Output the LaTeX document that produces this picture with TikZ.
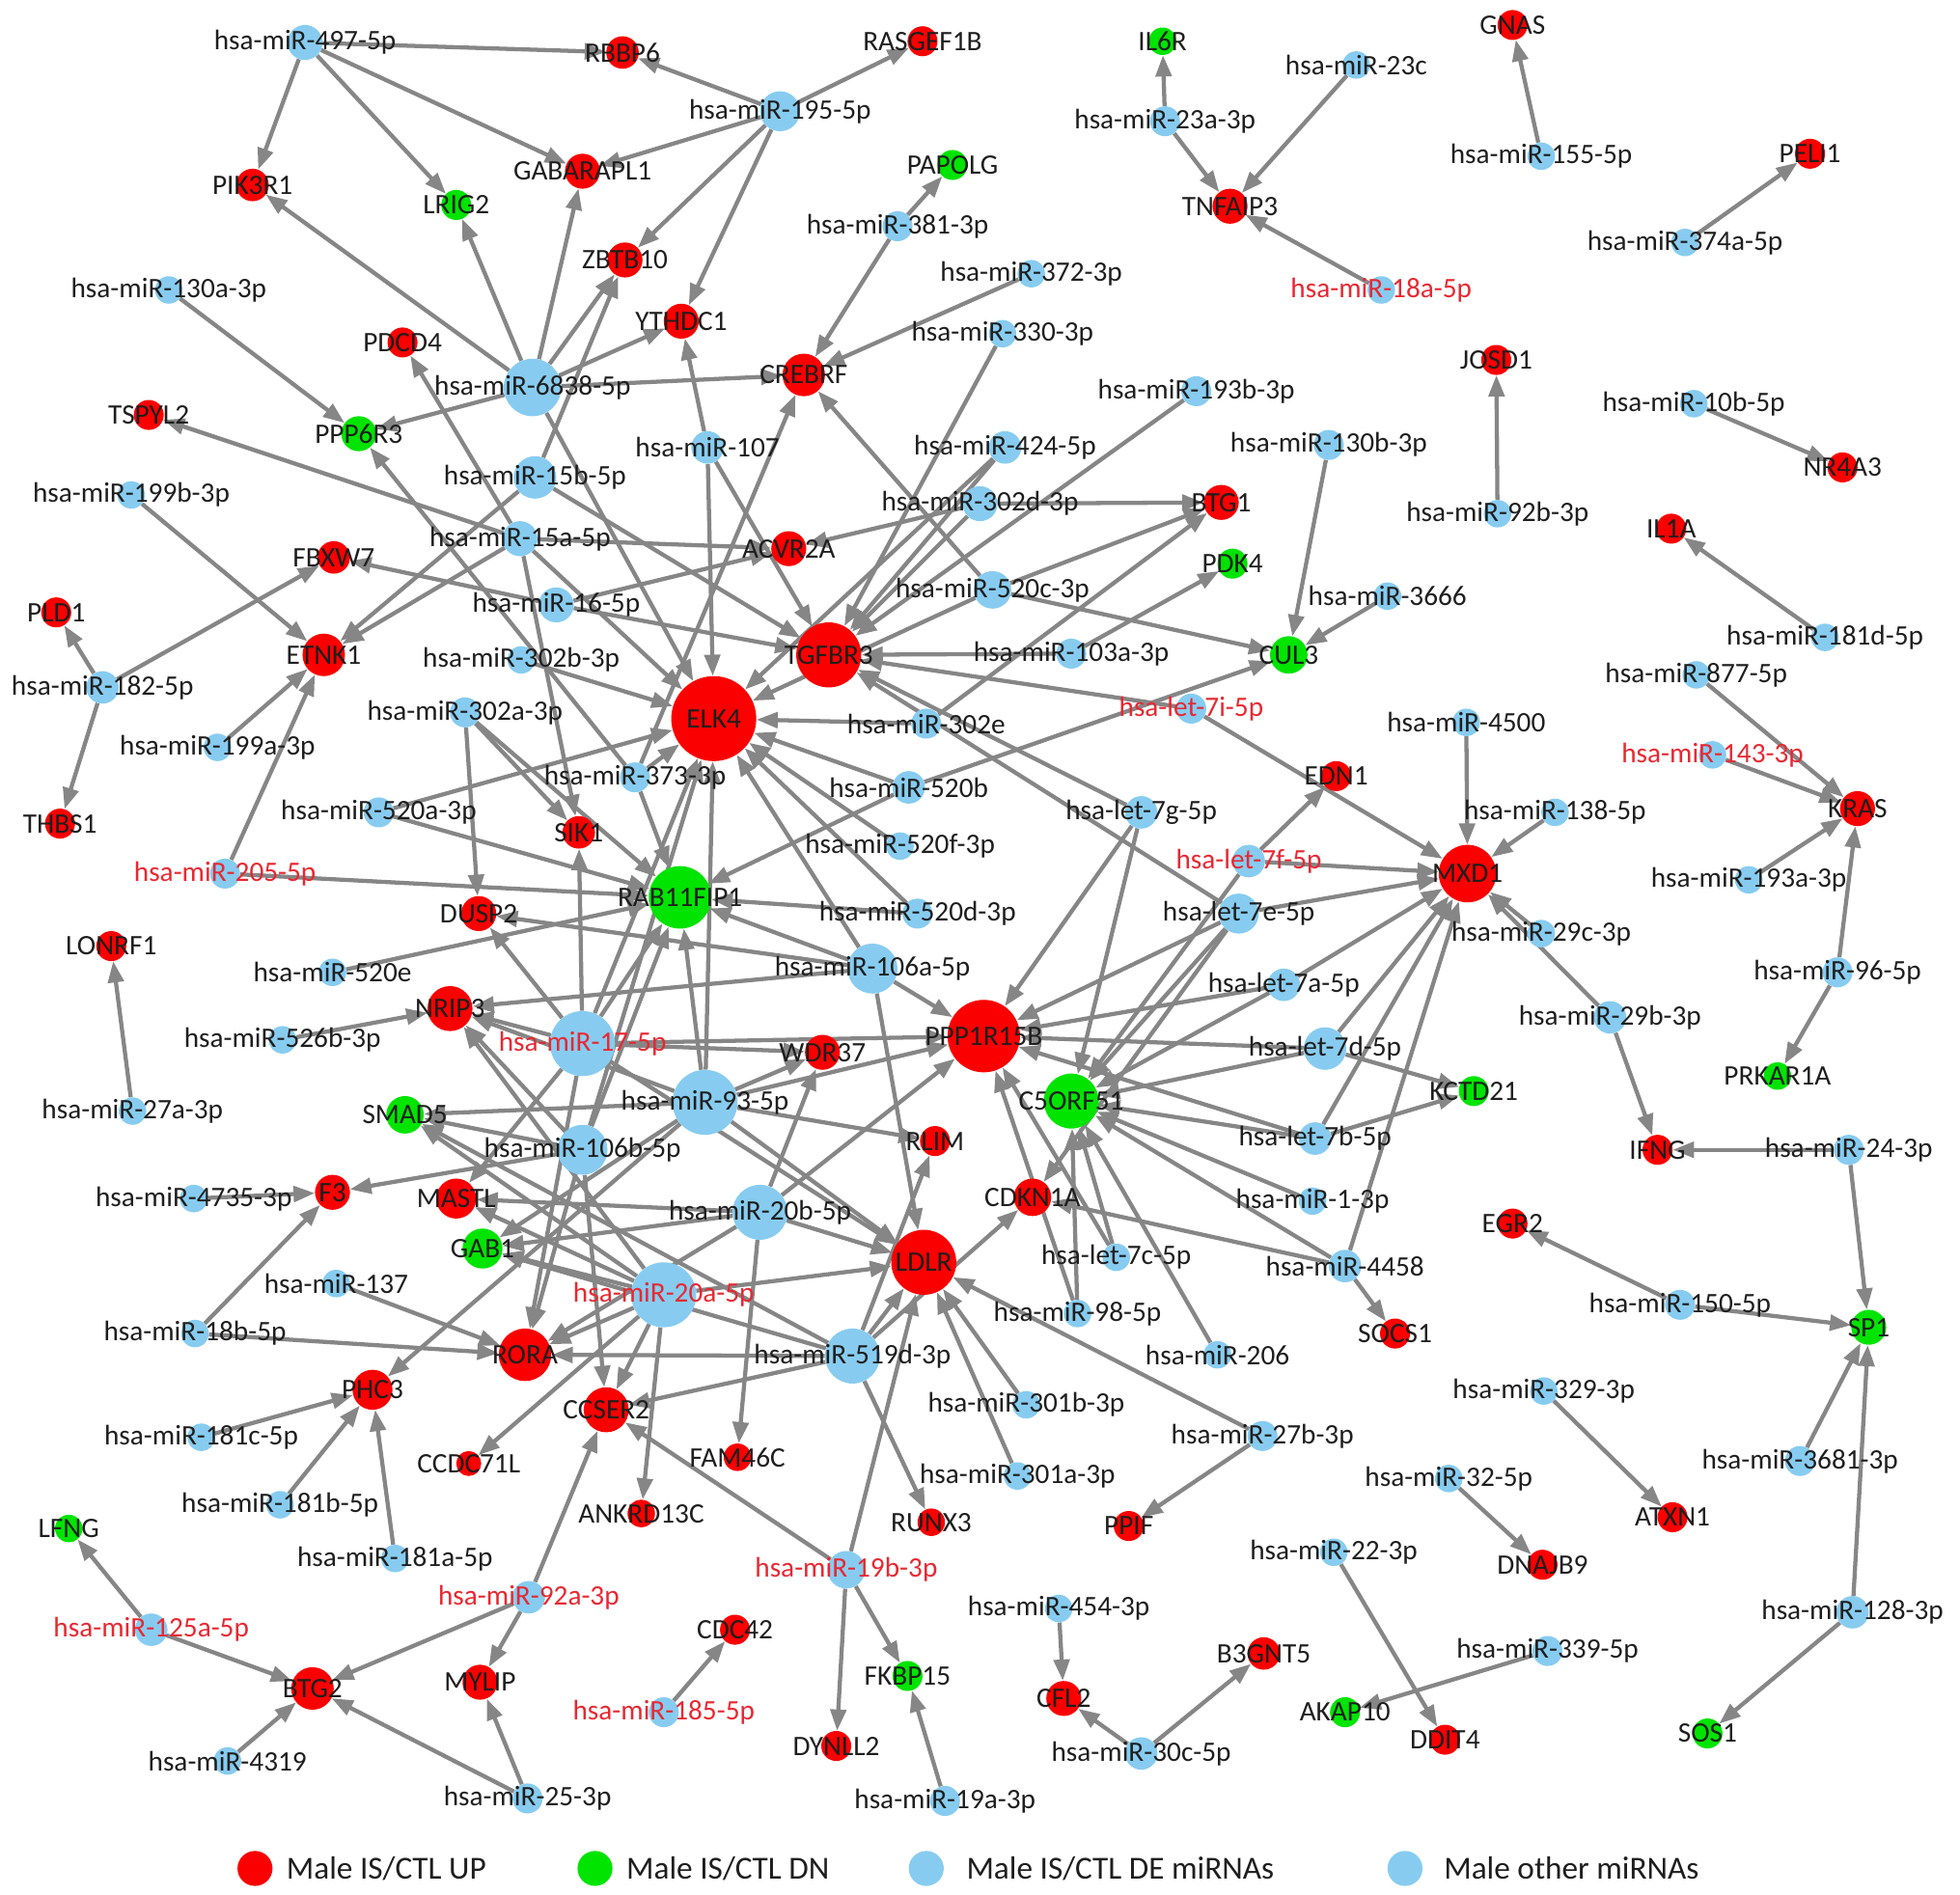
\documentclass[tikz,border=0pt]{standalone}
\usepackage{fontspec}
\setmainfont{Carlito}
\usetikzlibrary{arrows.meta}
\pgfdeclarelayer{bgfill}
\pgfdeclarelayer{edges}
\pgfsetlayers{bgfill,edges,main}
\definecolor{gred}{RGB}{250,0,0}
\definecolor{ggreen}{RGB}{0,228,0}
\definecolor{mblue}{RGB}{135,204,240}
\definecolor{egray}{RGB}{134,134,134}
\definecolor{lblack}{RGB}{30,30,30}
\definecolor{lred}{RGB}{232,40,50}
\newcommand\lblfont{\fontsize{22.6}{24}\selectfont}
\newcommand\legfont{\fontsize{25.7}{28}\selectfont}
\tikzset{
  nd/.style={circle, inner sep=0pt, draw=none},
  gr/.style={nd, fill=gred},
  gg/.style={nd, fill=ggreen},
  bm/.style={nd, fill=mblue},
  lab/.style={font=\lblfont, text=lblack, inner sep=0pt},
  labr/.style={lab, text=lred},
  edg/.style={draw=egray, line width=3.3pt, -{Triangle[length=17pt,width=12.5pt]}},
}
\newcommand\Nd[7]{\node[#4, minimum size=#5pt, label={[#7]center:#6}] (#1) at (#2,#3) {};}
\begin{document}
\begin{tikzpicture}[x=1pt,y=-1pt]
\begin{pgfonlayer}{bgfill}
\fill[white] (0,0) rectangle (1568,1516);
\end{pgfonlayer}
\useasboundingbox (0,0) rectangle (1568,1516);
\Nd{m497}{244}{34}{bm}{28}{hsa-miR-497-5p}{lab}
\Nd{RBBP6}{498}{42}{gr}{26}{RBBP6}{lab}
\Nd{RASGEF1B}{738}{33}{gr}{24}{RASGEF1B}{lab}
\Nd{m195}{624}{89}{bm}{32}{hsa-miR-195-5p}{lab}
\Nd{GABARAPL1}{466}{137}{gr}{28}{GABARAPL1}{lab}
\Nd{PIK3R1}{202}{148}{gr}{26}{PIK3R1}{lab}
\Nd{LRIG2}{365}{164}{gg}{24}{LRIG2}{lab}
\Nd{PAPOLG}{762}{132}{gg}{24}{PAPOLG}{lab}
\Nd{m381}{718}{181}{bm}{24}{hsa-miR-381-3p}{lab}
\Nd{ZBTB10}{500}{208}{gr}{28}{ZBTB10}{lab}
\Nd{YTHDC1}{545}{257}{gr}{28}{YTHDC1}{lab}
\Nd{m130a}{135}{232}{bm}{22}{hsa-miR-130a-3p}{lab}
\Nd{m372}{825}{219}{bm}{22}{hsa-miR-372-3p}{lab}
\Nd{m330}{802}{267}{bm}{22}{hsa-miR-330-3p}{lab}
\Nd{PDCD4}{322}{274}{gr}{24}{PDCD4}{lab}
\Nd{m6838}{426}{310}{bm}{46}{hsa-miR-6838-5p}{lab}
\Nd{CREBRF}{643}{300}{gr}{34}{CREBRF}{lab}
\Nd{TSPYL2}{119}{332}{gr}{24}{TSPYL2}{lab}
\Nd{PPP6R3}{287}{347}{gg}{28}{PPP6R3}{lab}
\Nd{m107}{566}{358}{bm}{26}{hsa-miR-107}{lab}
\Nd{m193b}{957}{313}{bm}{24}{hsa-miR-193b-3p}{lab}
\Nd{m424}{804}{358}{bm}{26}{hsa-miR-424-5p}{lab}
\Nd{m130b}{1063}{356}{bm}{24}{hsa-miR-130b-3p}{lab}
\Nd{m15b}{428}{382}{bm}{34}{hsa-miR-15b-5p}{lab}
\Nd{m199b}{105}{396}{bm}{22}{hsa-miR-199b-3p}{lab}
\Nd{m302d}{784}{403}{bm}{28}{hsa-miR-302d-3p}{lab}
\Nd{BTG1}{977}{402}{gr}{28}{BTG1}{lab}
\Nd{m15a}{416}{431}{bm}{28}{hsa-miR-15a-5p}{lab}
\Nd{ACVR2A}{631}{439}{gr}{28}{ACVR2A}{lab}
\Nd{FBXW7}{267}{446}{gr}{26}{FBXW7}{lab}
\Nd{PDK4}{986}{451}{gg}{24}{PDK4}{lab}
\Nd{m16}{445}{484}{bm}{28}{hsa-miR-16-5p}{lab}
\Nd{PLD1}{45}{490}{gr}{24}{PLD1}{lab}
\Nd{ETNK1}{259}{524}{gr}{34}{ETNK1}{lab}
\Nd{TGFBR3}{663}{524}{gr}{52}{TGFBR3}{lab}
\Nd{m520c}{794}{472}{bm}{30}{hsa-miR-520c-3p}{lab}
\Nd{m3666}{1110}{477}{bm}{22}{hsa-miR-3666}{lab}
\Nd{CUL3}{1031}{524}{gg}{30}{CUL3}{lab}
\Nd{m103a}{857}{523}{bm}{24}{hsa-miR-103a-3p}{lab}
\Nd{m302b}{417}{528}{bm}{22}{hsa-miR-302b-3p}{lab}
\Nd{m182}{82}{550}{bm}{26}{hsa-miR-182-5p}{lab}
\Nd{ELK4}{571}{575}{gr}{68}{ELK4}{lab}
\Nd{m302e}{741}{579}{bm}{24}{hsa-miR-302e}{lab}
\Nd{let7i}{953}{567}{bm}{24}{hsa-let-7i-5p}{labr}
\Nd{m302a}{372}{570}{bm}{24}{hsa-miR-302a-3p}{lab}
\Nd{m199a}{174}{598}{bm}{22}{hsa-miR-199a-3p}{lab}
\Nd{m4500}{1173}{578}{bm}{22}{hsa-miR-4500}{lab}
\Nd{m877}{1357}{540}{bm}{22}{hsa-miR-877-5p}{lab}
\Nd{m181d}{1460}{510}{bm}{22}{hsa-miR-181d-5p}{lab}
\Nd{IL1A}{1337}{423}{gr}{24}{IL1A}{lab}
\Nd{NR4A3}{1474}{374}{gr}{24}{NR4A3}{lab}
\Nd{m10b}{1355}{323}{bm}{22}{hsa-miR-10b-5p}{lab}
\Nd{m92b}{1198}{411}{bm}{22}{hsa-miR-92b-3p}{lab}
\Nd{JOSD1}{1197}{288}{gr}{24}{JOSD1}{lab}
\Nd{m18a}{1105}{232}{bm}{22}{hsa-miR-18a-5p}{labr}
\Nd{TNFAIP3}{984}{165}{gr}{28}{TNFAIP3}{lab}
\Nd{m23a}{932}{97}{bm}{24}{hsa-miR-23a-3p}{lab}
\Nd{IL6R}{930}{33}{gg}{22}{IL6R}{lab}
\Nd{m23c}{1085}{52}{bm}{22}{hsa-miR-23c}{lab}
\Nd{GNAS}{1210}{20}{gr}{24}{GNAS}{lab}
\Nd{m155}{1233}{125}{bm}{22}{hsa-miR-155-5p}{lab}
\Nd{PELI1}{1448}{123}{gr}{24}{PELI1}{lab}
\Nd{m374a}{1348}{194}{bm}{22}{hsa-miR-374a-5p}{lab}
\Nd{m373}{508}{622}{bm}{24}{hsa-miR-373-3p}{lab}
\Nd{m520b}{727}{630}{bm}{26}{hsa-miR-520b}{lab}
\Nd{EDN1}{1069}{621}{gr}{24}{EDN1}{lab}
\Nd{m143}{1370}{604}{bm}{22}{hsa-miR-143-3p}{labr}
\Nd{KRAS}{1486}{647}{gr}{28}{KRAS}{lab}
\Nd{THBS1}{48}{659}{gr}{24}{THBS1}{lab}
\Nd{m520a}{303}{650}{bm}{24}{hsa-miR-520a-3p}{lab}
\Nd{SIK1}{463}{666}{gr}{26}{SIK1}{lab}
\Nd{let7g}{913}{650}{bm}{26}{hsa-let-7g-5p}{lab}
\Nd{m138}{1244}{650}{bm}{22}{hsa-miR-138-5p}{lab}
\Nd{m520f}{720}{677}{bm}{22}{hsa-miR-520f-3p}{lab}
\Nd{let7f}{999}{689}{bm}{26}{hsa-let-7f-5p}{labr}
\Nd{MXD1}{1174}{699}{gr}{46}{MXD1}{lab}
\Nd{m193a}{1399}{704}{bm}{22}{hsa-miR-193a-3p}{lab}
\Nd{m205}{180}{699}{bm}{24}{hsa-miR-205-5p}{labr}
\Nd{RAB11FIP1}{544}{718}{gg}{50}{RAB11FIP1}{lab}
\Nd{DUSP2}{383}{731}{gr}{28}{DUSP2}{lab}
\Nd{m520d}{734}{731}{bm}{24}{hsa-miR-520d-3p}{lab}
\Nd{let7e}{991}{731}{bm}{32}{hsa-let-7e-5p}{lab}
\Nd{m29c}{1233}{747}{bm}{22}{hsa-miR-29c-3p}{lab}
\Nd{LONRF1}{89}{757}{gr}{24}{LONRF1}{lab}
\Nd{m520e}{266}{778}{bm}{22}{hsa-miR-520e}{lab}
\Nd{m106a}{698}{775}{bm}{40}{hsa-miR-106a-5p}{lab}
\Nd{m96}{1470}{778}{bm}{24}{hsa-miR-96-5p}{lab}
\Nd{let7a}{1027}{788}{bm}{26}{hsa-let-7a-5p}{lab}
\Nd{NRIP3}{360}{807}{gr}{36}{NRIP3}{lab}
\Nd{m29b}{1288}{814}{bm}{26}{hsa-miR-29b-3p}{lab}
\Nd{m526b}{226}{832}{bm}{22}{hsa-miR-526b-3p}{lab}
\Nd{m17}{466}{835}{bm}{52}{hsa-miR-17-5p}{labr}
\Nd{PPP1R15B}{787}{829}{gr}{58}{PPP1R15B}{lab}
\Nd{WDR37}{658}{842}{gr}{28}{WDR37}{lab}
\Nd{let7d}{1060}{839}{bm}{34}{hsa-let-7d-5p}{lab}
\Nd{PRKAR1A}{1422}{861}{gg}{22}{PRKAR1A}{lab}
\Nd{m27a}{106}{889}{bm}{22}{hsa-miR-27a-3p}{lab}
\Nd{SMAD5}{324}{892}{gg}{30}{SMAD5}{lab}
\Nd{m93}{564}{882}{bm}{52}{hsa-miR-93-5p}{lab}
\Nd{C5ORF51}{857}{881}{gg}{44}{C5ORF51}{lab}
\Nd{KCTD21}{1179}{873}{gg}{24}{KCTD21}{lab}
\Nd{let7b}{1052}{911}{bm}{26}{hsa-let-7b-5p}{lab}
\Nd{m106b}{466}{920}{bm}{40}{hsa-miR-106b-5p}{lab}
\Nd{RLIM}{748}{913}{gr}{24}{RLIM}{lab}
\Nd{IFNG}{1326}{920}{gr}{24}{IFNG}{lab}
\Nd{m24}{1479}{920}{bm}{24}{hsa-miR-24-3p}{lab}
\Nd{m4735}{155}{959}{bm}{22}{hsa-miR-4735-3p}{lab}
\Nd{F3}{266}{954}{gr}{28}{F3}{lab}
\Nd{MASTL}{365}{959}{gr}{32}{MASTL}{lab}
\Nd{m20b}{608}{970}{bm}{44}{hsa-miR-20b-5p}{lab}
\Nd{CDKN1A}{826}{958}{gr}{30}{CDKN1A}{lab}
\Nd{m1}{1050}{961}{bm}{22}{hsa-miR-1-3p}{lab}
\Nd{EGR2}{1210}{979}{gr}{24}{EGR2}{lab}
\Nd{GAB1}{386}{999}{gg}{32}{GAB1}{lab}
\Nd{let7c}{893}{1006}{bm}{22}{hsa-let-7c-5p}{lab}
\Nd{m4458}{1076}{1013}{bm}{26}{hsa-miR-4458}{lab}
\Nd{m137}{269}{1027}{bm}{22}{hsa-miR-137}{lab}
\Nd{m20a}{531}{1036}{bm}{52}{hsa-miR-20a-5p}{labr}
\Nd{LDLR}{739}{1010}{gr}{52}{LDLR}{lab}
\Nd{m98}{862}{1051}{bm}{22}{hsa-miR-98-5p}{lab}
\Nd{SP1}{1495}{1062}{gg}{28}{SP1}{lab}
\Nd{m150}{1344}{1044}{bm}{24}{hsa-miR-150-5p}{lab}
\Nd{SOCS1}{1116}{1067}{gr}{24}{SOCS1}{lab}
\Nd{m18b}{156}{1067}{bm}{22}{hsa-miR-18b-5p}{lab}
\Nd{RORA}{420}{1084}{gr}{42}{RORA}{lab}
\Nd{m519d}{682}{1085}{bm}{44}{hsa-miR-519d-3p}{lab}
\Nd{m206}{974}{1084}{bm}{22}{hsa-miR-206}{lab}
\Nd{PHC3}{298}{1112}{gr}{32}{PHC3}{lab}
\Nd{CCSER2}{485}{1128}{gr}{36}{CCSER2}{lab}
\Nd{m181c}{161}{1150}{bm}{22}{hsa-miR-181c-5p}{lab}
\Nd{m301b}{821}{1124}{bm}{22}{hsa-miR-301b-3p}{lab}
\Nd{m329}{1235}{1113}{bm}{22}{hsa-miR-329-3p}{lab}
\Nd{m27b}{1010}{1149}{bm}{24}{hsa-miR-27b-3p}{lab}
\Nd{CCDC71L}{375}{1171}{gr}{20}{CCDC71L}{lab}
\Nd{FAM46C}{590}{1166}{gr}{22}{FAM46C}{lab}
\Nd{m301a}{814}{1181}{bm}{22}{hsa-miR-301a-3p}{lab}
\Nd{m32}{1159}{1183}{bm}{22}{hsa-miR-32-5p}{lab}
\Nd{m3681}{1440}{1169}{bm}{24}{hsa-miR-3681-3p}{lab}
\Nd{m181b}{224}{1204}{bm}{22}{hsa-miR-181b-5p}{lab}
\Nd{ANKRD13C}{513}{1211}{gr}{22}{ANKRD13C}{lab}
\Nd{RUNX3}{745}{1218}{gr}{22}{RUNX3}{lab}
\Nd{PPIF}{903}{1221}{gr}{24}{PPIF}{lab}
\Nd{ATXN1}{1338}{1214}{gr}{24}{ATXN1}{lab}
\Nd{LFNG}{55}{1223}{gg}{22}{LFNG}{lab}
\Nd{m181a}{316}{1247}{bm}{22}{hsa-miR-181a-5p}{lab}
\Nd{m22}{1067}{1242}{bm}{22}{hsa-miR-22-3p}{lab}
\Nd{DNAJB9}{1234}{1252}{gr}{24}{DNAJB9}{lab}
\Nd{m19b}{677}{1256}{bm}{30}{hsa-miR-19b-3p}{labr}
\Nd{m92a}{423}{1278}{bm}{26}{hsa-miR-92a-3p}{labr}
\Nd{m454}{847}{1287}{bm}{22}{hsa-miR-454-3p}{lab}
\Nd{m128}{1482}{1290}{bm}{26}{hsa-miR-128-3p}{lab}
\Nd{m125a}{121}{1304}{bm}{26}{hsa-miR-125a-5p}{labr}
\Nd{CDC42}{588}{1304}{gr}{24}{CDC42}{lab}
\Nd{B3GNT5}{1011}{1323}{gr}{26}{B3GNT5}{lab}
\Nd{m339}{1238}{1321}{bm}{24}{hsa-miR-339-5p}{lab}
\Nd{FKBP15}{726}{1341}{gg}{24}{FKBP15}{lab}
\Nd{BTG2}{250}{1351}{gr}{34}{BTG2}{lab}
\Nd{MYLIP}{384}{1346}{gr}{28}{MYLIP}{lab}
\Nd{CFL2}{851}{1359}{gr}{28}{CFL2}{lab}
\Nd{m185}{531}{1370}{bm}{24}{hsa-miR-185-5p}{labr}
\Nd{AKAP10}{1076}{1370}{gg}{24}{AKAP10}{lab}
\Nd{DDIT4}{1156}{1392}{gr}{24}{DDIT4}{lab}
\Nd{SOS1}{1366}{1387}{gg}{24}{SOS1}{lab}
\Nd{DYNLL2}{669}{1397}{gr}{24}{DYNLL2}{lab}
\Nd{m30c}{913}{1403}{bm}{26}{hsa-miR-30c-5p}{lab}
\Nd{m4319}{182}{1409}{bm}{22}{hsa-miR-4319}{lab}
\Nd{m25}{422}{1439}{bm}{24}{hsa-miR-25-3p}{lab}
\Nd{m19a}{756}{1441}{bm}{24}{hsa-miR-19a-3p}{lab}
% legend
\node[gr, minimum size=28pt] (lg1) at (204,1495) {};
\node[anchor=west, font=\legfont, text=lblack, inner sep=0pt] (lt1) at (229,1495) {Male IS/CTL UP};
\node[gg, minimum size=28pt] (lg2) at (476,1495) {};
\node[anchor=west, font=\legfont, text=lblack, inner sep=0pt] (lt2) at (501,1495) {Male IS/CTL DN};
\node[bm, minimum size=28pt] (lg3) at (741,1495) {};
\node[anchor=west, font=\legfont, text=lblack, inner sep=0pt] (lt3) at (773,1495) {Male IS/CTL DE miRNAs};
\node[bm, minimum size=28pt] (lg4) at (1124,1495) {};
\node[anchor=west, font=\legfont, text=lblack, inner sep=0pt] (lt4) at (1155,1495) {Male other miRNAs};
\begin{pgfonlayer}{edges}
\foreach \s/\t in {m497/RBBP6, m497/PIK3R1, m497/LRIG2, m497/GABARAPL1,
 m195/RBBP6, m195/RASGEF1B, m195/GABARAPL1, m195/ZBTB10, m195/YTHDC1,
 m6838/PIK3R1, m6838/LRIG2, m6838/GABARAPL1, m6838/ZBTB10, m6838/YTHDC1, m6838/CREBRF, m6838/PPP6R3, m6838/ELK4,
 m130a/PPP6R3, m373/PPP6R3,
 m381/PAPOLG, m381/CREBRF, m372/CREBRF, m520c/CREBRF, m373/CREBRF,
 m107/YTHDC1, m107/ELK4, m107/TGFBR3,
 m15b/ZBTB10, m15b/ETNK1, m15b/TGFBR3,
 m15a/TSPYL2, m15a/ETNK1, m15a/PDCD4, m15a/ACVR2A, m15a/ELK4, m15a/SIK1,
 m16/FBXW7, m16/ACVR2A, m16/TGFBR3,
 m182/PLD1, m182/THBS1, m182/FBXW7,
 m199b/ETNK1, m199a/ETNK1, m205/ETNK1, m205/RAB11FIP1,
 m302d/BTG1, m302d/ACVR2A, m302d/TGFBR3,
 m520c/BTG1, m520c/CUL3, m520c/ELK4,
 m302e/BTG1, m302e/ELK4,
 m103a/TGFBR3, m103a/PDK4,
 m330/TGFBR3, m424/TGFBR3, m424/ELK4, m193b/TGFBR3,
 m130b/CUL3, m3666/CUL3, m520b/CUL3,
 m520b/ELK4, m520b/RAB11FIP1, m520f/ELK4, m520d/ELK4, m520d/RAB11FIP1,
 m373/ELK4, m373/RAB11FIP1,
 m302b/ELK4, m302a/DUSP2, m302a/SIK1, m302a/RAB11FIP1,
 m520a/ELK4, m520a/RAB11FIP1, m520e/RAB11FIP1,
 m526b/NRIP3,
 m106a/ELK4, m106a/RAB11FIP1, m106a/DUSP2, m106a/NRIP3, m106a/PPP1R15B, m106a/LDLR,
 m17/ELK4, m17/RAB11FIP1, m17/DUSP2, m17/SIK1, m17/NRIP3, m17/WDR37, m17/PPP1R15B, m17/LDLR, m17/MASTL, m17/RORA,
 m93/ELK4, m93/RAB11FIP1, m93/SMAD5, m93/NRIP3, m93/WDR37, m93/PPP1R15B, m93/RLIM, m93/LDLR, m93/PHC3, m93/GAB1,
 m106b/RAB11FIP1, m106b/F3, m106b/SMAD5, m106b/NRIP3, m106b/RORA, m106b/CCSER2, m106b/ELK4,
 m20b/WDR37, m20b/PPP1R15B, m20b/LDLR, m20b/FAM46C, m20b/MASTL, m20b/GAB1, m20b/RORA,
 m20a/SMAD5, m20a/NRIP3, m20a/GAB1, m20a/RORA, m20a/CCDC71L, m20a/CCSER2, m20a/ANKRD13C, m20a/LDLR, m20a/MASTL,
 m519d/RORA, m519d/CCSER2, m519d/RUNX3, m519d/CDKN1A, m519d/LDLR, m519d/SMAD5, m519d/GAB1, m519d/RLIM,
 m4735/F3, m18b/F3, m18b/RORA, m137/RORA,
 m181a/PHC3, m181b/PHC3, m181c/PHC3,
 m125a/LFNG, m125a/BTG2, m4319/BTG2, m92a/BTG2, m25/BTG2, m92a/MYLIP, m25/MYLIP, m92a/CCSER2,
 m19b/CCSER2, m19b/LDLR, m19b/DYNLL2, m19b/FKBP15, m19a/FKBP15, m185/CDC42,
 m301b/LDLR, m301a/LDLR, m27b/LDLR, m27b/PPIF,
 m454/CFL2, m30c/CFL2, m30c/B3GNT5, m22/DDIT4, m339/AKAP10, m32/DNAJB9, m329/ATXN1,
 m128/SP1, m128/SOS1, m3681/SP1, m150/SP1, m150/EGR2, m24/SP1, m24/IFNG, m29b/IFNG, m29b/MXD1, m29c/MXD1,
 m96/KRAS, m96/PRKAR1A, m193a/KRAS, m143/KRAS, m877/KRAS,
 m4500/MXD1, m138/MXD1,
 let7i/MXD1, let7i/TGFBR3, let7f/EDN1, let7f/MXD1, let7f/C5ORF51,
 let7e/MXD1, let7e/TGFBR3, let7e/PPP1R15B, let7e/C5ORF51, let7e/CDKN1A,
 let7g/TGFBR3, let7g/PPP1R15B, let7g/C5ORF51,
 let7a/MXD1, let7a/PPP1R15B, let7a/C5ORF51,
 let7d/MXD1, let7d/PPP1R15B, let7d/C5ORF51, let7d/KCTD21,
 let7b/MXD1, let7b/PPP1R15B, let7b/KCTD21, let7b/C5ORF51,
 let7c/PPP1R15B, let7c/C5ORF51, m98/PPP1R15B, m98/C5ORF51,
 m4458/SOCS1, m4458/C5ORF51, m4458/CDKN1A, m4458/MXD1,
 m1/C5ORF51, m206/C5ORF51,
 m27a/LONRF1, m23a/IL6R, m23a/TNFAIP3, m23c/TNFAIP3, m18a/TNFAIP3, m155/GNAS,
 m374a/PELI1, m92b/JOSD1, m10b/NR4A3, m181d/IL1A}
  \draw[edg] (\s) -- (\t);
\end{pgfonlayer}
\end{tikzpicture}
\end{document}
